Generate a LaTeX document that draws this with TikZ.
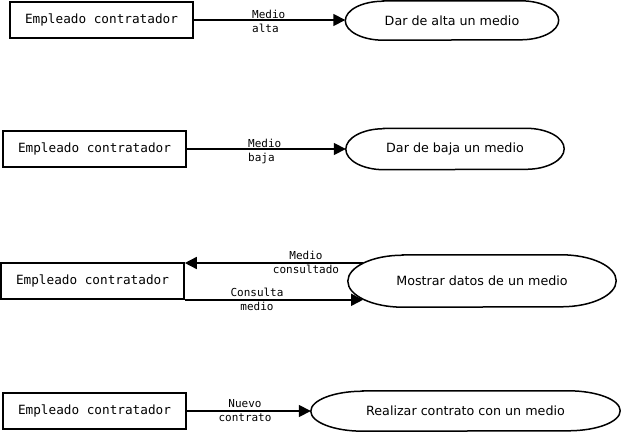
\documentclass[tikz,border=0pt]{standalone}
\usepackage{fontspec}
\newfontfamily\boxmono{DejaVu Sans Mono}
\newfontfamily\procsans{DejaVu Sans}
\usetikzlibrary{arrows.meta,calc}
% outline of a process node: #1 node name, #2 horizontal radius of the ends, #3 half height
\newcommand\drawprocoutline[3]{%
  \draw[procline] ([xshift=#2]#1.north west) -- ([xshift=-#2]#1.north east)
    arc[start angle=90, end angle=-90, x radius=#2, y radius=#3]
    -- ([xshift=#2]#1.south west)
    arc[start angle=270, end angle=90, x radius=#2, y radius=#3] -- cycle;}
\begin{document}
\begin{tikzpicture}[x=1pt,y=-1pt,
  ent/.style={draw, line width=1.6pt, minimum width=183pt, minimum height=36pt, inner sep=0pt,
    font=\boxmono\fontsize{12.7}{15}\selectfont},
  proc/.style={rectangle, inner sep=0pt,
    font=\procsans\fontsize{12.7}{15}\selectfont},
  procline/.style={line width=1.5pt},
  flow/.style={line width=1.6pt, -{Triangle[length=12pt,width=12pt]}},
  lbl/.style={font=\boxmono\fontsize{11}{14}\selectfont, inner sep=0pt}]
\useasboundingbox (0,0) rectangle (621,433);

% Row 1
\node[ent] (e1) at (101.5,20) {Empleado contratador};
\node[proc, minimum width=213pt, minimum height=39pt] (p1) at (452,20.5) {Dar de alta un medio};
\drawprocoutline{p1}{38pt}{19.5pt}
\draw[flow] (e1) -- (e1 -| p1.west);
\node[lbl, anchor=west, align=left] (l1) at (252,21) {Medio\\alta};

% Row 2
\node[ent] (e2) at (94.5,149) {Empleado contratador};
\node[proc, minimum width=218pt, minimum height=41pt] (p2) at (455,149) {Dar de baja un medio};
\drawprocoutline{p2}{38pt}{20.5pt}
\draw[flow] (e2) -- (p2);
\node[lbl, anchor=west, align=left] (l2) at (248,151) {Medio\\baja};

% Row 3
\node[ent] (e3) at (92.5,281) {Empleado contratador};
\node[proc, minimum width=268pt, minimum height=52pt] (p3) at (482,281) {Mostrar datos de un medio};
\drawprocoutline{p3}{55pt}{26pt}
\coordinate (p3t) at ($(p3.west)+(15.3,-18)$);
\coordinate (p3b) at ($(p3.west)+(15.3,18)$);
\draw[flow] (p3t) -- (p3t -| e3.east);
\draw[flow] (e3.south east) -- (e3.south east -| p3b);
\node[lbl, align=center] (l3a) at (306,262) {Medio\\consultado};
\node[lbl, align=center] (l3b) at (257,299) {Consulta\\medio};

% Row 4
\node[ent] (e4) at (94.5,411) {Empleado contratador};
\node[proc, minimum width=309pt, minimum height=40pt] (p4) at (465.5,411) {Realizar contrato con un medio};
\drawprocoutline{p4}{52pt}{20pt}
\draw[flow] (e4) -- (p4);
\node[lbl, align=center] (l4) at (245,411) {Nuevo\\contrato};
\end{tikzpicture}
\end{document}
